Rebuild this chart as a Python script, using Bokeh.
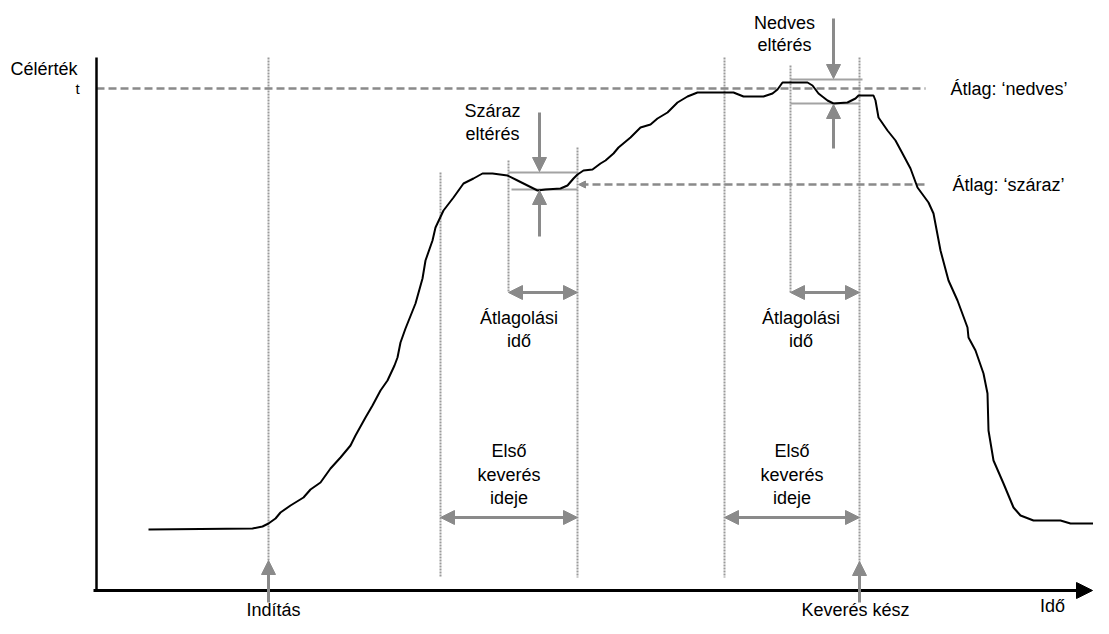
from bokeh.plotting import figure
from bokeh.models import Range1d, Arrow, NormalHead
from bokeh.core.properties import value
from bokeh.embed import file_html
from bokeh.resources import INLINE

# ---- data (schematic: time vs. measured value, in drawing units) ----
curve_t = [148, 252, 262, 268, 275, 280, 290, 303, 310, 320, 330, 340, 350, 355, 365, 372,
           380, 387, 394, 397, 400, 405, 415, 422, 425, 432, 435, 443, 453, 463, 473, 482,
           492, 507, 517, 527, 537, 545, 560, 567, 573, 577, 583, 592, 600, 605, 613, 618,
           630, 640, 650, 657, 667, 677, 687, 697, 700, 733, 743, 763, 772, 777, 782, 807,
           812, 818, 827, 833, 847, 855, 858, 873, 875, 878, 887, 895, 902, 910, 917, 928,
           933, 940, 948, 957, 967, 968, 975, 983, 987, 988, 993, 1003, 1013, 1020, 1033,
           1060, 1070, 1093, 1097, 1109]
curve_v = [529, 528, 526, 523, 518, 512, 505, 497, 489, 482, 468, 457, 445, 435, 417, 405,
           390, 380, 365, 357, 342, 328, 303, 278, 260, 240, 227, 210, 197, 183, 178, 173,
           173, 175, 180, 185, 190, 189, 188, 185, 178, 174, 170, 169, 163, 160, 153, 147,
           137, 127, 124, 118, 112, 102, 96, 92, 92, 92, 96, 96, 93, 89, 82, 82,
           85, 93, 100, 103, 102, 98, 95, 95, 100, 117, 130, 140, 153, 168, 187, 202,
           213, 250, 280, 300, 327, 337, 350, 373, 393, 430, 460, 483, 507, 515, 520,
           520, 523, 523, 522, 522]

t_start = 268                 # Indítás
mix_from = [440, 724]         # first mixing window start (dry, wet)
mix_to = [577, 859]           # first mixing window end = averaging end
avg_from = [508, 790]         # averaging window start
avg_level = [184, 88]         # averages: száraz, nedves
dev_hi = [172, 79]            # deviation band upper
dev_lo = [189, 103]           # deviation band lower

axis_t0, axis_t1 = 93, 1092
axis_v0, axis_v1 = 590, 57

GRAY = "#8a8a8a"
LGRAY = "#a3a3a3"
FONT = value("Liberation Sans")

p = figure(width=1093, height=618, x_range=Range1d(0, 1093), y_range=Range1d(618, 0),
           output_backend="svg", toolbar_location=None, min_border=0,
           x_axis_location=None, y_axis_location=None)
p.grid.visible = False
p.outline_line_color = None
p.background_fill_color = "white"
p.border_fill_color = "white"

# vertical dotted guide lines
vx = [t_start, mix_from[0], avg_from[0], mix_to[0], mix_from[1], avg_from[1], mix_to[1]]
vtop = [axis_v1, 172, 160, 147, axis_v1, 65, axis_v1]
vbot = [560, 577, 292, 577, 577, 292, 562]
p.segment(x0=vx, y0=vtop, x1=vx, y1=vbot, line_color="#9a9a9a", line_width=2, line_dash="2 1")

# dashed average lines
p.segment(x0=[axis_t0 + 3, mix_to[0] + 3], y0=[avg_level[1], avg_level[0]],
          x1=[925, 925], y1=[avg_level[1], avg_level[0]],
          line_color=GRAY, line_width=2.5, line_dash="8 4")
p.add_layout(Arrow(end=NormalHead(size=7, fill_color=GRAY, line_color=GRAY),
                   x_start=mix_to[0] + 9, y_start=avg_level[0], x_end=mix_to[0] + 1, y_end=avg_level[0],
                   line_color=GRAY, line_width=0))

# deviation band lines
p.segment(x0=[avg_from[0], avg_from[0] + 3, avg_from[1], avg_from[1]],
          y0=[dev_hi[0], dev_lo[0], dev_hi[1], dev_lo[1]],
          x1=[mix_to[0], mix_to[0], mix_to[1] + 3, mix_to[1]],
          y1=[dev_hi[0], dev_lo[0], dev_hi[1], dev_lo[1]],
          line_color=LGRAY, line_width=2)

# curve
p.line(curve_t, curve_v, line_color="black", line_width=2)

# axes
p.segment(x0=[96], y0=[axis_v1], x1=[96], y1=[axis_v0], line_color="black", line_width=2.5)
p.add_layout(Arrow(end=NormalHead(size=16, fill_color="black", line_color="black"),
                   x_start=axis_t0, y_start=axis_v0, x_end=axis_t1, y_end=axis_v0,
                   line_color="black", line_width=3))

def arrow(x0, y0, x1, y1, both=False):
    head = lambda: NormalHead(size=14, fill_color=GRAY, line_color=GRAY)
    p.add_layout(Arrow(end=head(), start=head() if both else None,
                       x_start=x0, y_start=y0, x_end=x1, y_end=y1,
                       line_color=GRAY, line_width=3))

# deviation arrows
dev_x = [539, 833]
arrow(dev_x[0], 112, dev_x[0], dev_hi[0] - 1)
arrow(dev_x[0], 236, dev_x[0], dev_lo[0] + 1)
arrow(dev_x[1], 18, dev_x[1], dev_hi[1] - 1)
arrow(dev_x[1], 148, dev_x[1], dev_lo[1] + 1)
# window arrows
for i in range(2):
    arrow(avg_from[i], 292, mix_to[i], 292, both=True)
    arrow(mix_from[i], 517, mix_to[i], 517, both=True)
# event arrows
arrow(t_start, 602, t_start, 560)
arrow(mix_to[1], 602, mix_to[1], 561)

def txt(x, y, s, align="center", size="18px"):
    p.text(x=[x], y=[y], text=[s], text_font=FONT, text_font_size=size,
           text_align=align, text_baseline="middle", text_color="black")

txt(10, 68, "Célérték", align="left")
txt(77, 88, "t", size="15px")
txt(492, 110, "Száraz"); txt(492, 133, "eltérés")
txt(784, 22, "Nedves"); txt(784, 44, "eltérés")
txt(950, 88, "Átlag: ‘nedves’", align="left")
txt(952, 184, "Átlag: ‘száraz’", align="left")
for i in range(2):
    cx = (avg_from[i] + mix_to[i]) / 2 - 24
    txt(cx, 317, "Átlagolási"); txt(cx, 340, "idő")
    mx = (mix_from[i] + mix_to[i]) / 2
    txt(mx, 450, "Első"); txt(mx, 474, "keverés"); txt(mx, 497, "ideje")
txt(273, 609, "Indítás")
txt(855, 609, "Keverés kész")
txt(1052, 605, "Idő")

open("out.html", "w").write(file_html(p, INLINE))
